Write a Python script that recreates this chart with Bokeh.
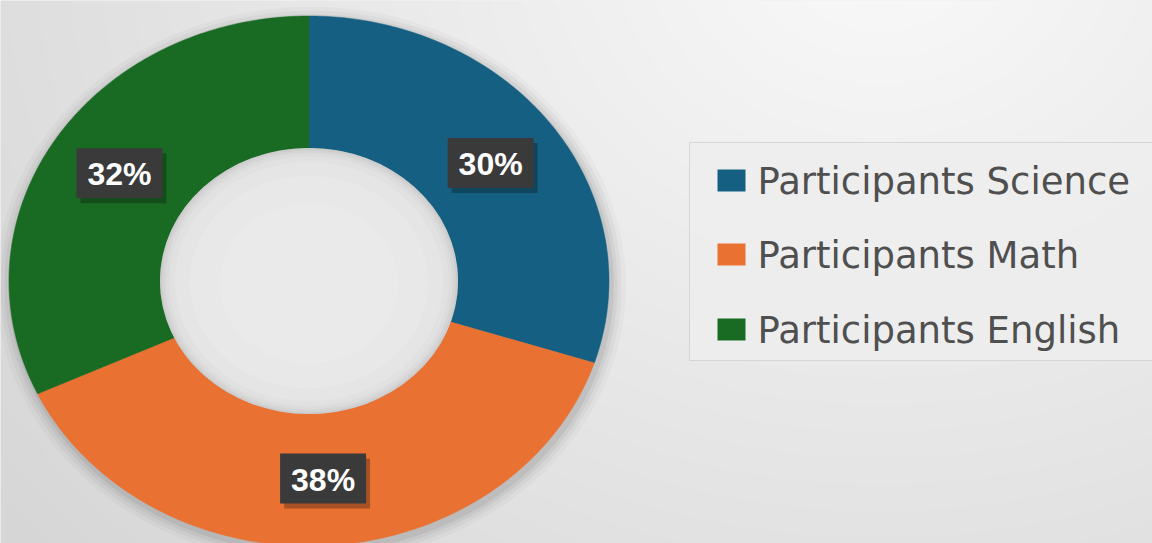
import numpy as np
from bokeh.plotting import figure
from bokeh.models import Range1d
from bokeh.core.properties import value
from bokeh.embed import file_html
from bokeh.resources import INLINE

# ---- data ----
categories = ["Participants Science", "Participants Math", "Participants English"]
shares = [30, 38, 32]
labels = ["30%", "38%", "32%"]
colors = ["#156082", "#E97132", "#196B24"]

# ---- layout (reference pixel coordinates, y measured downward) ----
W, H = 1152, 543


def fy(v):
    """reference pixel y (downward) -> data y (upward)"""
    return H - np.asarray(v, dtype=float)


cx, cy = 308.5, 280.5
rx_out, ry_out = 300, 265
rx_in, ry_in = 149, 133

p = figure(width=W, height=H, x_range=Range1d(0, W), y_range=Range1d(0, H),
           output_backend="svg", toolbar_location=None, min_border=0)
p.axis.visible = False
p.grid.visible = False
p.outline_line_color = None
p.background_fill_color = "#e6e6e6"
p.border_fill_color = "#e6e6e6"

# background gradient
hw, hh = W // 2, H // 2
xs = np.linspace(0, W, hw)
ys = H - np.linspace(0, H, hh)    # reference y for each row (row 0 = bottom)
XX, YY = np.meshgrid(xs, ys)
d = np.sqrt((XX - 880) ** 2 + ((YY + 60) * 1.2) ** 2)
g = 0.978 - 0.11 * np.clip(d / 900.0, 0, 1.25)
g = np.clip(g * 255, 0, 255).astype(np.uint32)
img = ((np.uint32(255) << 24) | (g << 16) | (g << 8) | g).astype(np.uint32)
p.image_rgba(image=[img], x=0, y=0, dw=W, dh=H)

# donut drop shadow
for k, a in [(1.05, 0.025), (1.035, 0.035), (1.022, 0.045), (1.01, 0.06)]:
    p.ellipse(x=cx + 2, y=fy(cy + 4), width=2 * rx_out * k, height=2 * ry_out * k,
              fill_color="black", fill_alpha=a, line_color=None)

# slices
total = float(sum(shares))
start = 90.0
mids = []
for s, c in zip(shares, colors):
    sweep = 360.0 * s / total
    a0 = np.radians(start)
    a1 = np.radians(start - sweep)
    t = np.linspace(a0, a1, 160)
    ox = cx + rx_out * np.cos(t)
    oy = cy - ry_out * np.sin(t)
    ix = cx + rx_in * np.cos(t[::-1])
    iy = cy - ry_in * np.sin(t[::-1])
    p.patch(x=np.concatenate([ox, ix]), y=fy(np.concatenate([oy, iy])),
            fill_color=c, line_color=c, line_width=0.5)
    mids.append(np.radians(start - sweep / 2))
    start -= sweep

# hole with inner shading
hole_steps = [(1.0, "#cdcdcd"), (0.985, "#d5d5d5"), (0.965, "#dcdcdc"),
              (0.94, "#e1e1e1"), (0.9, "#e5e5e5"), (0.8, "#e8e8e8"), (0.6, "#eaeaea")]
for k, col in hole_steps:
    p.ellipse(x=cx, y=fy(cy + (1 - k) * 6), width=2 * rx_in * k, height=2 * ry_in * k,
              fill_color=col, line_color=None)

# data labels at mid-ring of each slice
rmx, rmy = (rx_out + rx_in) / 2, (ry_out + ry_in) / 2
lx = [cx + rmx * np.cos(m) for m in mids]
ly = [cy - rmy * np.sin(m) - 1 for m in mids]
p.rect(x=[v + 4 for v in lx], y=fy([v + 5 for v in ly]), width=86, height=50,
       fill_color="black", fill_alpha=0.28, line_color=None)
p.rect(x=lx, y=fy(ly), width=86, height=50, fill_color="#3a3a3a", line_color=None)
p.text(x=lx, y=fy([v + 1 for v in ly]), text=labels, text_color="white",
       text_font=value("Liberation Sans"), text_font_style="bold",
       text_font_size="32px", text_align="center", text_baseline="middle")

# legend
p.quad(left=689, right=W + 5, top=fy(142), bottom=fy(360), fill_color="#ededed",
       fill_alpha=0.85, line_color="#d6d6d6", line_width=1)
row_y = [180, 254, 329]
p.rect(x=[731] * 3, y=fy(row_y), width=28, height=22, fill_color=colors, line_color=None)
p.text(x=[757] * 3, y=fy([v + 1 for v in row_y]), text=categories, text_color="#4f4f4f",
       text_font=value("DejaVu Sans"), text_font_size="37px",
       text_align="left", text_baseline="alphabetic")

open("out.html", "w").write(file_html(p, INLINE))
